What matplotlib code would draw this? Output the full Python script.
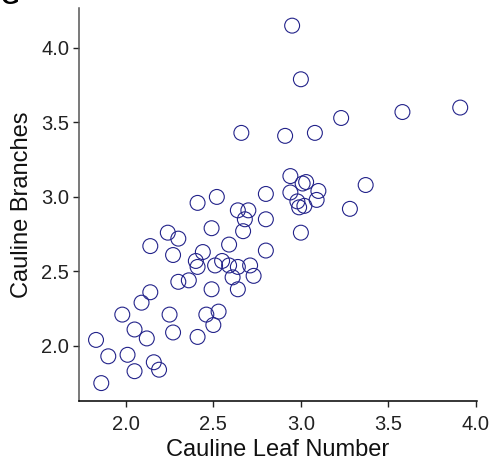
import matplotlib
matplotlib.use('Agg')
import matplotlib.pyplot as plt

# cauline leaf number vs cauline branches
leaf_number = [2.95, 3.00, 3.91, 3.58, 3.23, 2.66, 2.91, 3.08, 2.94, 3.01,
               3.03, 3.37, 2.94, 3.10, 3.09, 2.52, 2.41, 2.80, 2.98, 2.99,
               3.02, 3.28, 2.64, 2.70, 2.68, 2.80, 2.49, 2.67, 3.00, 2.24,
               2.30, 2.14, 2.59, 2.27, 2.44, 2.80, 2.40, 2.41, 2.55, 2.51,
               2.59, 2.64, 2.71, 2.73, 2.61, 2.30, 2.36, 2.49, 2.64, 2.14,
               2.09, 1.98, 2.25, 2.46, 2.53, 2.50, 2.05, 2.27, 2.12, 2.41,
               1.83, 1.90, 2.01, 2.16, 2.19, 2.05, 1.86]
branches = [4.15, 3.79, 3.60, 3.57, 3.53, 3.43, 3.41, 3.43, 3.14, 3.09,
            3.10, 3.08, 3.03, 3.04, 2.98, 3.00, 2.96, 3.02, 2.97, 2.93,
            2.94, 2.92, 2.91, 2.91, 2.85, 2.85, 2.79, 2.77, 2.76, 2.76,
            2.72, 2.67, 2.68, 2.61, 2.63, 2.64, 2.57, 2.53, 2.57, 2.54,
            2.54, 2.53, 2.54, 2.47, 2.46, 2.43, 2.44, 2.38, 2.38, 2.36,
            2.29, 2.21, 2.21, 2.21, 2.23, 2.14, 2.11, 2.09, 2.05, 2.06,
            2.04, 1.93, 1.94, 1.89, 1.84, 1.83, 1.75]
xticks = [2.0, 2.5, 3.0, 3.5, 4.0]
yticks = [2.0, 2.5, 3.0, 3.5, 4.0]

plt.rcParams['font.family'] = ['Liberation Sans', 'DejaVu Sans']

fig = plt.figure(figsize=(4.94, 4.65), dpi=100)
ax = fig.add_axes([0.160, 0.138, 0.806, 0.844])

ax.scatter(leaf_number, branches, s=115, facecolors='none',
           edgecolors='#23238a', linewidths=0.8)

ax.set_xlim(1.733, 4.007)
ax.set_ylim(1.631, 4.266)
ax.set_xticks(xticks)
ax.set_yticks(yticks)
ax.set_xticklabels([f'{v:.1f}' for v in xticks])
ax.set_yticklabels([f'{v:.1f}' for v in yticks])
ax.tick_params(labelsize=14.5, length=4, width=1, colors='#222222')
ax.tick_params(axis='x', pad=6)
ax.tick_params(axis='y', pad=3)

for side in ('top', 'right'):
    ax.spines[side].set_visible(False)
ax.spines['left'].set_color('#555555')
ax.spines['bottom'].set_color('black')
ax.spines['left'].set_linewidth(1.1)
ax.spines['bottom'].set_linewidth(1.1)

ax.set_xlabel('Cauline Leaf Number', fontsize=17, labelpad=4, color='#111111')
ax.set_ylabel('Cauline Branches', fontsize=17, labelpad=6, color='#111111')

# panel letter, mostly cut off at the top edge (as in the original)
fig.text(0.002, 0.991, 'G', fontsize=17, fontweight='bold', va='baseline', ha='left')

fig.savefig('out.png', dpi=100)
